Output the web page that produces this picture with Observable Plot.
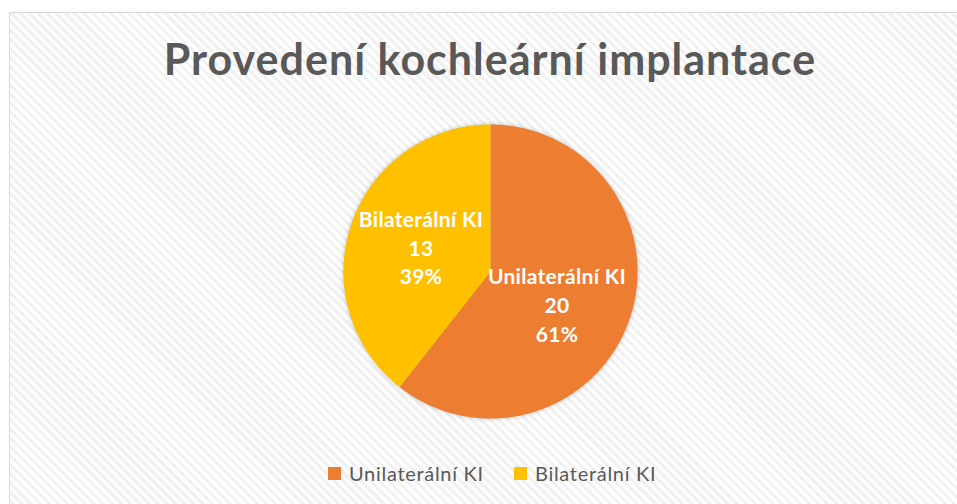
<!DOCTYPE html>
<html><head><meta charset="utf-8">
<script src="https://cdn.jsdelivr.net/npm/d3@7"></script>
<script src="https://cdn.jsdelivr.net/npm/@observablehq/plot@0.6"></script>
<style>
body{margin:0;background:#fff;width:957px;height:504px;overflow:hidden;position:relative;font-family:Lato,sans-serif;}
#frame{position:absolute;left:9px;top:12px;width:1000px;height:560px;border:1px solid #d9d9d9;box-sizing:border-box;
 background:repeating-linear-gradient(45deg,#ffffff 0px,#ffffff 3.2px,#f1f1f1 3.2px,#f1f1f1 6.4px);}
#title{position:absolute;left:-10px;width:1000px;top:37px;text-align:center;font:bold 43px Lato,sans-serif;letter-spacing:1px;line-height:1;color:#595959;white-space:nowrap;}
#chart{position:absolute;left:340px;top:121px;}
#chart svg{background:transparent;overflow:visible;}
#chart g[aria-label="line"]{filter:drop-shadow(0 0 2px rgba(0,0,0,0.25));}
#chart g[aria-label="text"]{letter-spacing:0.3px;}
#legend{position:absolute;top:461px;left:0;width:957px;height:20px;}
.li{position:absolute;display:flex;align-items:center;font:20px Lato,sans-serif;letter-spacing:0.7px;color:#595959;white-space:nowrap;}
.sw{width:13px;height:13px;margin-right:8px;}
</style></head>
<body>
<div id="frame"></div>
<div id="title"></div>
<div id="chart"></div>
<div id="legend"></div>
<script>
const title = "Provedení kochleární implantace";
const categories = ["Unilaterální KI", "Bilaterální KI"];
const counts = [20, 13];
const colors = ["#ED7D31", "#FFC000"];

document.getElementById("title").textContent = title;

const total = d3.sum(counts);
const arcs = d3.pie().sort(null).value(d => d)(counts);

// slice outlines in unit coordinates (angle clockwise from 12 o'clock)
const outline = [];
arcs.forEach((a, i) => {
  outline.push({cat: categories[i], x: 0, y: 0});
  const n = Math.max(2, Math.ceil((a.endAngle - a.startAngle) / (Math.PI / 360)));
  for (let k = 0; k <= n; k++) {
    const t = a.startAngle + (a.endAngle - a.startAngle) * k / n;
    outline.push({cat: categories[i], x: Math.sin(t), y: Math.cos(t)});
  }
  outline.push({cat: categories[i], x: 0, y: 0});
});

const labels = arcs.map((a, i) => {
  const m = (a.startAngle + a.endAngle) / 2;
  return {
    x: 0.5 * Math.sin(m),
    y: 0.5 * Math.cos(m),
    text: `${categories[i]}\n${counts[i]}\n${Math.round(counts[i] / total * 100)}%`
  };
});

const textOpts = {x: "x", y: "y", text: "text", fill: "white", fontSize: 21, fontWeight: "bold",
  fontFamily: "Lato, sans-serif", lineHeight: 1.37};

const plot = Plot.plot({
  width: 300, height: 300,
  margin: 3,
  x: {domain: [-1, 1], axis: null},
  y: {domain: [-1, 1], axis: null},
  color: {domain: categories, range: colors},
  style: {background: "transparent"},
  marks: [
    Plot.line(outline, {x: "x", y: "y", z: "cat", fill: "cat", stroke: "none", curve: "linear"}),
    Plot.text(labels.slice(0, 1), {...textOpts, dx: -3, dy: 8}),
    Plot.text(labels.slice(1), {...textOpts, dy: -1})
  ]
});
document.getElementById("chart").appendChild(plot);

const legend = document.getElementById("legend");
const legendX = [328, 514];
categories.forEach((c, i) => {
  const d = document.createElement("div");
  d.className = "li";
  d.style.left = legendX[i] + "px";
  d.innerHTML = `<span class="sw" style="background:${colors[i]}"></span><span>${c}</span>`;
  legend.appendChild(d);
});
</script>
</body></html>
